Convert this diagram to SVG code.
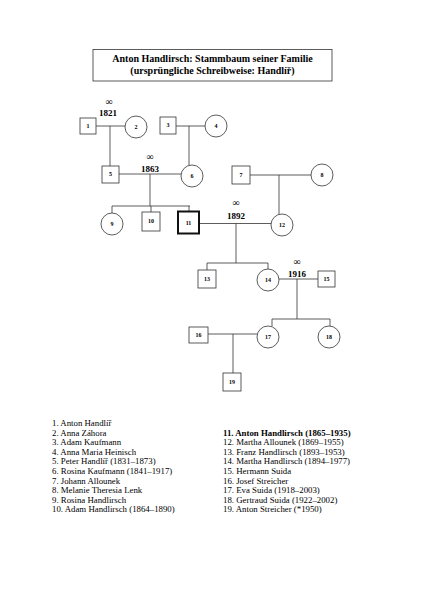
<svg xmlns="http://www.w3.org/2000/svg" width="424" height="600" viewBox="0 0 424 600">
<style>
text{font-family:"Liberation Serif","Times New Roman",serif;fill:#000}
.n rect,.n circle{fill:#fff;stroke:#333;stroke-width:0.8}
.n text{font-size:6px;font-weight:bold;text-anchor:middle}
.c line{stroke:#333;stroke-width:0.8}
.m{font-size:9px;text-anchor:middle;font-weight:bold}
.inf{font-size:10px;text-anchor:middle}
.l{font-size:8.8px}
</style>
<rect width="424" height="600" fill="#fff"/>
<g id="title">
<rect x="93" y="49.5" width="239" height="31.5" fill="#fff" stroke="#333" stroke-width="0.8"/>
<text x="212.5" y="62" style="font-size:10px;font-weight:bold;text-anchor:middle">Anton Handlirsch: Stammbaum seiner Familie</text>
<text x="212.5" y="74" style="font-size:10px;font-weight:bold;text-anchor:middle">(ursprüngliche Schreibweise: Handlíř)</text>
</g>
<g id="connectors" class="c">
<line x1="96" y1="126" x2="125" y2="126"/>
<line x1="110" y1="126" x2="110" y2="166"/>
<line x1="176" y1="126" x2="205" y2="126"/>
<line x1="189" y1="126" x2="189" y2="165"/>
<line x1="119" y1="174" x2="181" y2="174"/>
<line x1="150" y1="174" x2="150" y2="206"/>
<line x1="112" y1="206" x2="190" y2="206"/>
<line x1="112" y1="206" x2="112" y2="213"/>
<line x1="151" y1="206" x2="151" y2="212"/>
<line x1="189" y1="206" x2="189" y2="211"/>
<line x1="250" y1="175" x2="311" y2="175"/>
<line x1="279" y1="175" x2="279" y2="214"/>
<line x1="199" y1="223.5" x2="271" y2="223.5"/>
<line x1="236" y1="223.5" x2="236" y2="263"/>
<line x1="207" y1="263" x2="268" y2="263"/>
<line x1="207" y1="263" x2="207" y2="270"/>
<line x1="268" y1="263" x2="268" y2="269"/>
<line x1="279" y1="279" x2="318" y2="279"/>
<line x1="297" y1="279" x2="297" y2="319"/>
<line x1="272" y1="319" x2="330" y2="319"/>
<line x1="272" y1="319" x2="272" y2="326"/>
<line x1="330" y1="319" x2="330" y2="326"/>
<line x1="208" y1="334" x2="257" y2="334"/>
<line x1="233" y1="334" x2="233" y2="373"/>
</g>
<g id="marriages">
<text class="inf" x="109" y="105">∞</text>
<text class="m" x="108" y="116">1821</text>
<text class="inf" x="150" y="160">∞</text>
<text class="m" x="150" y="172">1863</text>
<text class="inf" x="236" y="206">∞</text>
<text class="m" x="236" y="219">1892</text>
<text class="inf" x="297" y="265">∞</text>
<text class="m" x="297" y="277">1916</text>
</g>
<g id="n1" class="n"><rect x="80" y="118" width="16" height="16"/><text x="88" y="128">1</text></g>
<g id="n2" class="n"><circle cx="136" cy="127" r="11"/><text x="136" y="129">2</text></g>
<g id="n3" class="n"><rect x="160" y="117" width="16" height="17"/><text x="168" y="127">3</text></g>
<g id="n4" class="n"><circle cx="216" cy="126" r="11"/><text x="216" y="128">4</text></g>
<g id="n5" class="n"><rect x="102" y="166" width="17" height="17"/><text x="110.5" y="176">5</text></g>
<g id="n6" class="n"><circle cx="192" cy="176" r="11"/><text x="192" y="178">6</text></g>
<g id="n7" class="n"><rect x="232" y="166" width="18" height="18"/><text x="241" y="177">7</text></g>
<g id="n8" class="n"><circle cx="322" cy="175" r="11"/><text x="322" y="177">8</text></g>
<g id="n9" class="n"><circle cx="112" cy="224" r="11"/><text x="112" y="226">9</text></g>
<g id="n10" class="n"><rect x="142" y="212" width="18" height="19"/><text x="151" y="223">10</text></g>
<g id="n11" class="n"><rect x="178" y="211.5" width="21" height="22" style="stroke:#111;stroke-width:2"/><text x="188.5" y="225">11</text></g>
<g id="n12" class="n"><circle cx="282" cy="225" r="11"/><text x="282" y="227">12</text></g>
<g id="n13" class="n"><rect x="198" y="270" width="18" height="18"/><text x="207" y="281">13</text></g>
<g id="n14" class="n"><circle cx="268" cy="280" r="11"/><text x="268" y="282">14</text></g>
<g id="n15" class="n"><rect x="318" y="271" width="17" height="16"/><text x="326.5" y="281">15</text></g>
<g id="n16" class="n"><rect x="189" y="327" width="19" height="16"/><text x="198.5" y="337">16</text></g>
<g id="n17" class="n"><circle cx="268" cy="337" r="11"/><text x="268" y="339">17</text></g>
<g id="n18" class="n"><circle cx="329" cy="337" r="11"/><text x="329" y="339">18</text></g>
<g id="n19" class="n"><rect x="223" y="373" width="18" height="18"/><text x="232" y="384">19</text></g>
<g id="legend">
<text class="l" x="52" y="426">1. Anton Handlíř</text>
<text class="l" x="52" y="435.6">2. Anna Záhora</text>
<text class="l" x="52" y="445.2">3. Adam Kaufmann</text>
<text class="l" x="52" y="454.8">4. Anna Maria Heinisch</text>
<text class="l" x="52" y="464.4">5. Peter Handlíř (1831–1873)</text>
<text class="l" x="52" y="474">6. Rosina Kaufmann (1841–1917)</text>
<text class="l" x="52" y="483.6">7. Johann Allounek</text>
<text class="l" x="52" y="493.2">8. Melanie Theresia Lenk</text>
<text class="l" x="52" y="502.8">9. Rosina Handlirsch</text>
<text class="l" x="52" y="512.4">10. Adam Handlirsch (1864–1890)</text>
<text class="l" x="223" y="435.6" font-weight="bold">11. Anton Handlirsch (1865–1935)</text>
<text class="l" x="223" y="445.2">12. Martha Allounek (1869–1955)</text>
<text class="l" x="223" y="454.8">13. Franz Handlirsch (1893–1953)</text>
<text class="l" x="223" y="464.4">14. Martha Handlirsch (1894–1977)</text>
<text class="l" x="223" y="474">15. Hermann Suida</text>
<text class="l" x="223" y="483.6">16. Josef Streicher</text>
<text class="l" x="223" y="493.2">17. Eva Suida (1918–2003)</text>
<text class="l" x="223" y="502.8">18. Gertraud Suida (1922–2002)</text>
<text class="l" x="223" y="512.4">19. Anton Streicher (*1950)</text>
</g>
</svg>
